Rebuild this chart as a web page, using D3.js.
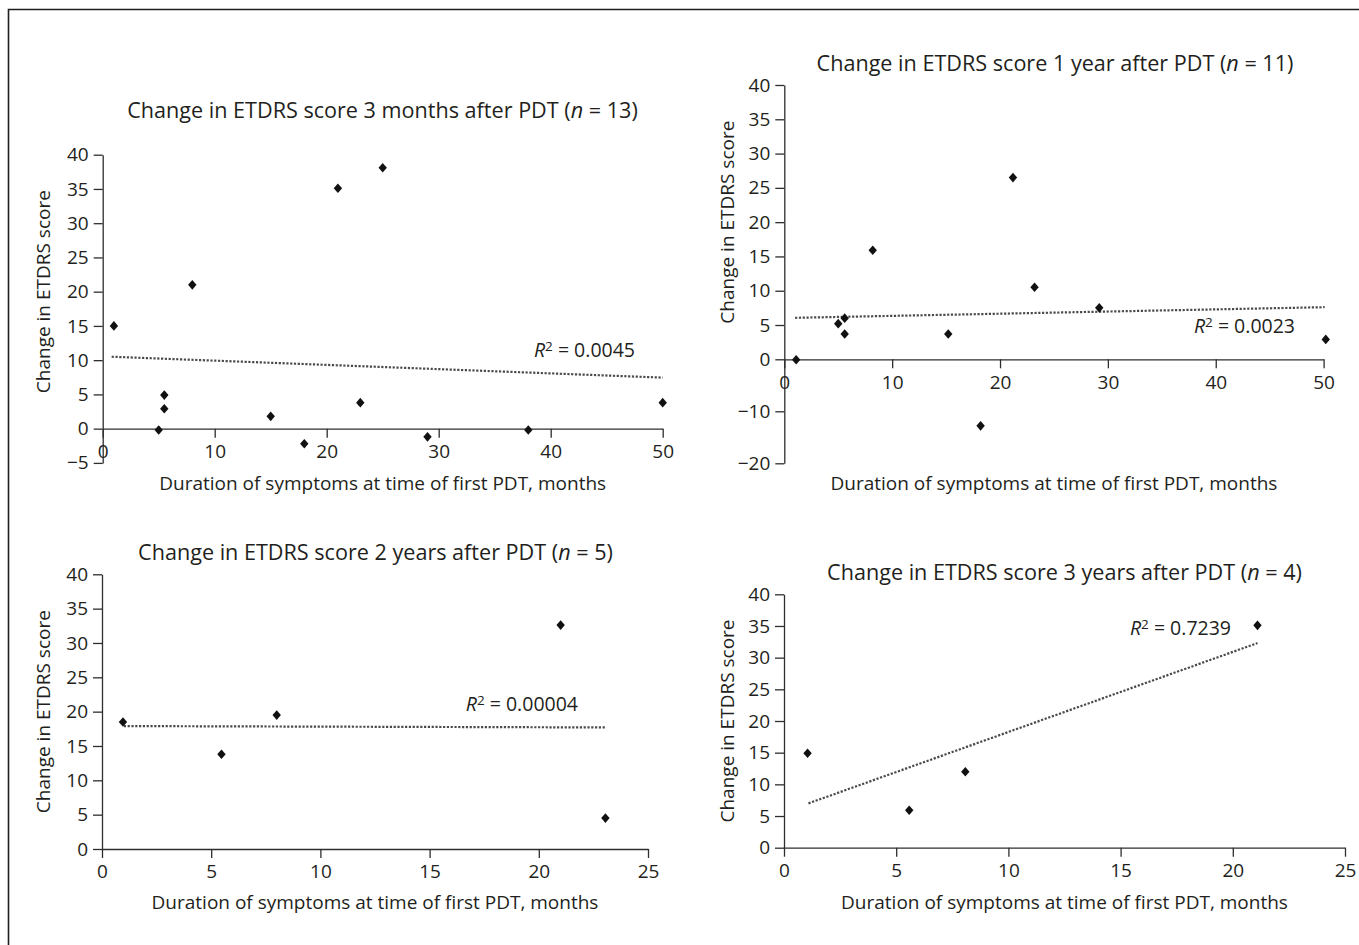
<!DOCTYPE html>
<html><head><meta charset="utf-8">
<script src="https://cdn.jsdelivr.net/npm/d3@7"></script>
<style>
body{margin:0;background:#fff;}
svg text{font-family:"Open Sans",sans-serif;fill:#231f20;}
</style></head><body>
<svg id="chart" width="1359" height="945"></svg>
<script>
// ---------------- DATA ----------------
const xAxisTitle = "Duration of symptoms at time of first PDT, months";
const yAxisTitle = "Change in ETDRS score";

// Panel 1: 3 months
const p1Title = ["Change in ETDRS score 3 months after PDT (", "n", " = 13)"];
const p1X = [1, 5, 5.5, 5.5, 8, 15, 18, 21, 23, 25, 29, 38, 50];
const p1Y = [15, -0.2, 4.9, 2.9, 21, 1.8, -2.2, 35.1, 3.8, 38.1, -1.2, -0.2, 3.8];
const p1TrendX = [0.8, 50];
const p1TrendY = [10.5, 7.45];
const p1R2 = "0.0045";
const p1XTicks = [0, 10, 20, 30, 40, 50];
const p1YTicks = [-5, 0, 5, 10, 15, 20, 25, 30, 35, 40];

// Panel 2: 1 year
const p2Title = ["Change in ETDRS score 1 year after PDT (", "n", " = 11)"];
const p2X = [1.1, 5, 5.6, 5.6, 8.2, 15.2, 18.2, 21.2, 23.2, 29.2, 50.2];
const p2Y = [-0.1, 5.2, 6.0, 3.7, 15.9, 3.7, -12.8, 26.5, 10.5, 7.5, 2.9];
const p2TrendX = [1.0, 50.1];
const p2TrendY = [6.05, 7.6];
const p2R2 = "0.0023";
const p2XTicks = [0, 10, 20, 30, 40, 50];
const p2YTicks = [-20, -10, 0, 5, 10, 15, 20, 25, 30, 35, 40];

// Panel 3: 2 years
const p3Title = ["Change in ETDRS score 2 years after PDT (", "n", " = 5)"];
const p3X = [0.96, 5.47, 8.0, 21.0, 23.05];
const p3Y = [18.5, 13.8, 19.5, 32.6, 4.5];
const p3TrendX = [1.0, 23.1];
const p3TrendY = [17.9, 17.7];
const p3R2 = "0.00004";
const p3XTicks = [0, 5, 10, 15, 20, 25];
const p3YTicks = [0, 5, 10, 15, 20, 25, 30, 35, 40];

// Panel 4: 3 years
const p4Title = ["Change in ETDRS score 3 years after PDT (", "n", " = 4)"];
const p4X = [1.05, 5.58, 8.08, 21.1];
const p4Y = [14.9, 5.9, 12.0, 35.1];
const p4TrendX = [1.09, 21.1];
const p4TrendY = [7.0, 32.3];
const p4R2 = "0.7239";
const p4XTicks = [0, 5, 10, 15, 20, 25];
const p4YTicks = [0, 5, 10, 15, 20, 25, 30, 35, 40];

// ---------------- LAYOUT ----------------
const panels = [
  { title: p1Title, xs: p1X, ys: p1Y, tx: p1TrendX, ty: p1TrendY, r2: p1R2, xTicks: p1XTicks, yTicks: p1YTicks,
    xDom: [0, 50], xRange: [102.7, 662.7], yDom: [-5, 40], yRange: [462.9, 154.7],
    titleX: 382.5, titleY: 118, xTitleY: 490, yTitleX: 43, r2X: 635, r2Y: 357 },
  { title: p2Title, xs: p2X, ys: p2Y, tx: p2TrendX, ty: p2TrendY, r2: p2R2, xTicks: p2XTicks, yTicks: p2YTicks,
    xDom: [0, 50], xRange: [784.3, 1323.6], yDom: [-20, 0, 40], yRange: [463.3, 359.3, 85],
    titleX: 1055, titleY: 71, xTitleY: 490, yTitleX: 727, r2X: 1295, r2Y: 333 },
  { title: p3Title, xs: p3X, ys: p3Y, tx: p3TrendX, ty: p3TrendY, r2: p3R2, xTicks: p3XTicks, yTicks: p3YTicks,
    xDom: [0, 25], xRange: [102, 648], yDom: [0, 40], yRange: [849, 574.3],
    titleX: 375.5, titleY: 560, xTitleY: 909, yTitleX: 43, r2X: 578, r2Y: 711 },
  { title: p4Title, xs: p4X, ys: p4Y, tx: p4TrendX, ty: p4TrendY, r2: p4R2, xTicks: p4XTicks, yTicks: p4YTicks,
    xDom: [0, 25], xRange: [784, 1345], yDom: [0, 40], yRange: [847.7, 594.3],
    titleX: 1064.5, titleY: 580, xTitleY: 909, yTitleX: 727, r2X: 1231, r2Y: 635 }
];

const svg = d3.select("#chart");
const AXIS = "#2e2e2e";

// figure frame (left + top)
svg.append("path").attr("d", "M8.5,945 L8.5,9.5 L1359,9.5")
  .attr("fill", "none").attr("stroke", "#1e1e1e").attr("stroke-width", 1.6);

const diamond = {
  draw(ctx, size) {
    const w = 4.2, h = 4.8;
    ctx.moveTo(0, -h); ctx.lineTo(w, 0); ctx.lineTo(0, h); ctx.lineTo(-w, 0); ctx.closePath();
  }
};

panels.forEach(p => {
  const g = svg.append("g");
  const x = d3.scaleLinear().domain(p.xDom).range(p.xRange);
  const y = d3.scaleLinear().domain(p.yDom).range(p.yRange);

  // y axis
  const ya = g.append("g").attr("transform", `translate(${x(0)},0)`)
    .call(d3.axisLeft(y).tickValues(p.yTicks).tickSize(9).tickSizeOuter(0).tickPadding(5).tickFormat(d3.format("d")));
  // x axis at y = 0
  const xa = g.append("g").attr("transform", `translate(0,${y(0)})`)
    .call(d3.axisBottom(x).tickValues(p.xTicks).tickSize(9).tickSizeOuter(0).tickPadding(7).tickFormat(d3.format("d")));
  [ya, xa].forEach(a => {
    a.select(".domain").attr("stroke", AXIS).attr("stroke-width", 1.3);
    a.selectAll(".tick line").attr("stroke", AXIS).attr("stroke-width", 1.3);
    a.selectAll(".tick text").attr("font-size", 19).attr("font-family", "Open Sans").attr("fill", "#231f20");
  });

  // trend line
  const pts = p.tx.map((v, i) => [x(v), y(p.ty[i])]);
  g.append("path").attr("d", d3.line()(pts))
    .attr("fill", "none").attr("stroke", "#4a4a4a").attr("stroke-width", 2.2)
    .attr("stroke-dasharray", "2.2,1.6");

  // points
  g.selectAll(".pt").data(p.xs.map((v, i) => [v, p.ys[i]])).join("path")
    .attr("class", "pt")
    .attr("transform", d => `translate(${x(d[0])},${y(d[1])})`)
    .attr("d", d3.symbol(diamond, 64)())
    .attr("fill", "#111");

  // title
  const t = g.append("text").attr("x", p.titleX).attr("y", p.titleY)
    .attr("text-anchor", "middle").attr("font-size", 21.6);
  t.append("tspan").text(p.title[0]);
  t.append("tspan").attr("font-style", "italic").text(p.title[1]);
  t.append("tspan").text(p.title[2]);

  // x axis title
  g.append("text").attr("x", (p.xRange[0] + p.xRange[1]) / 2).attr("y", p.xTitleY)
    .attr("text-anchor", "middle").attr("font-size", 19).text(xAxisTitle);

  // y axis title
  g.append("text").attr("transform", `translate(${p.yTitleX},${y(20)}) rotate(-90)`)
    .attr("text-anchor", "middle").attr("dy", "0.35em").attr("font-size", 19).text(yAxisTitle);

  // R² label
  const r = g.append("text").attr("x", p.r2X).attr("y", p.r2Y)
    .attr("text-anchor", "end").attr("font-size", 19.5);
  r.append("tspan").attr("font-style", "italic").text("R");
  r.append("tspan").attr("font-size", 13.5).attr("dy", "-0.45em").text("2");
  r.append("tspan").attr("dy", "0.3em").text(" = " + p.r2);
});
</script>
</body></html>
